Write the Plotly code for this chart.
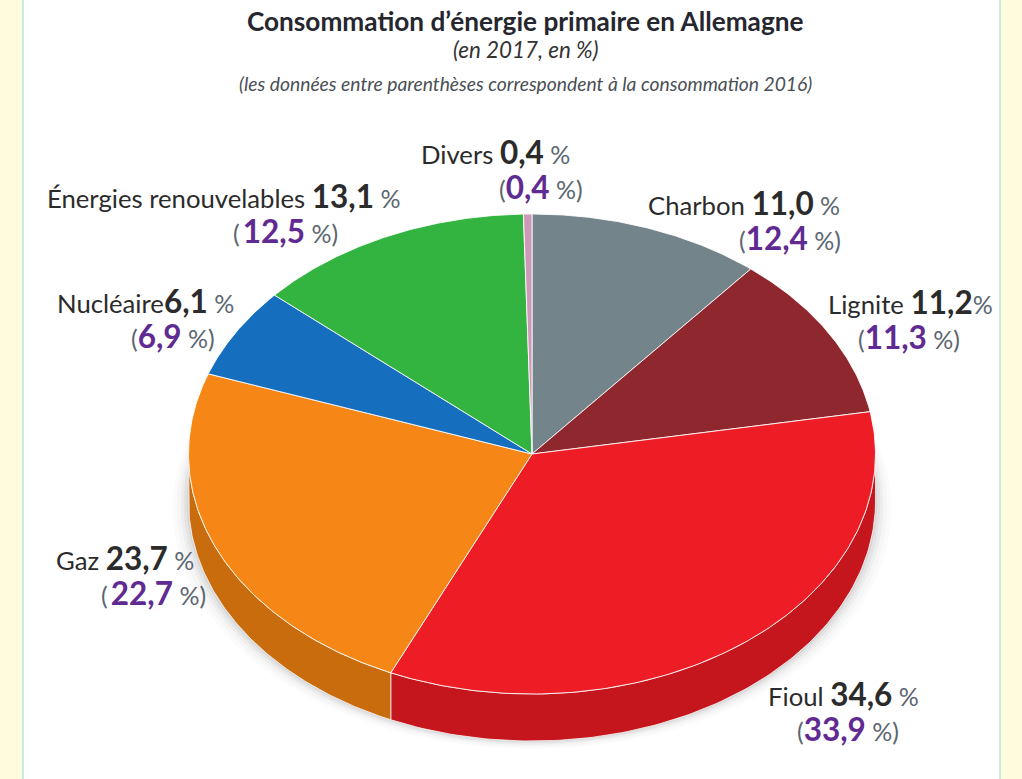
import numpy as np
import plotly.graph_objects as go

# ---- data ----
categories = ["Charbon", "Lignite", "Fioul", "Gaz", "Nucléaire", "Énergies renouvelables", "Divers"]
values_2017 = [11.0, 11.2, 34.6, 23.7, 6.1, 13.1, 0.4]
values_2016 = [12.4, 11.3, 33.9, 22.7, 6.9, 12.5, 0.4]

# ---- styles ----
top_colors = ["#74848B", "#8F272E", "#EE1C25", "#F68716", "#156EBE", "#33B440", "#CF98B8"]
side_colors = ["#5C6A70", "#721F25", "#C4161C", "#C96C0E", "#11589A", "#299033", "#A67A93"]
FONT = "Lato"
INK = "#2b2b2b"
PURPLE = "#5F2A91"
GREY = "#5c6670"

# pie geometry, in pixels of the 1022x779 page
CX, CY, RX, RY, DEPTH = 532, 454, 343.5, 240, 47

fig = go.Figure()


def ell(theta):
    return CX + RX * np.sin(theta), CY - RY * np.cos(theta)


# soft shadow below the pie
t = np.linspace(0, 2 * np.pi, 200)
for grow, alpha in [(16, 0.015), (12, 0.02), (8, 0.03), (5, 0.04), (2, 0.06)]:
    xs, ys = ell(t)
    fig.add_trace(go.Scatter(
        x=CX + (xs - CX) * (RX + grow) / RX, y=ys + DEPTH + grow * 0.5,
        mode="lines", fill="toself", fillcolor=f"rgba(0,0,0,{alpha})",
        line=dict(width=0), hoverinfo="skip", showlegend=False))

shares = np.array(values_2017) / sum(values_2017)
edges = np.concatenate([[0], np.cumsum(shares)]) * 2 * np.pi

# side wall (only the part of each slice facing the viewer)
for i, name in enumerate(categories):
    a = max(edges[i], np.pi / 2)
    b = min(edges[i + 1], 3 * np.pi / 2)
    if b <= a:
        continue
    th = np.linspace(a, b, 120)
    xs, ys = ell(th)
    fig.add_trace(go.Scatter(
        x=np.concatenate([xs, xs[::-1], xs[:1]]),
        y=np.concatenate([ys, ys[::-1] + DEPTH, ys[:1]]),
        mode="lines", fill="toself", fillcolor=side_colors[i],
        line=dict(color="rgba(255,255,255,0.75)", width=1),
        hoverinfo="skip", showlegend=False))

# top face
for i, name in enumerate(categories):
    th = np.linspace(edges[i], edges[i + 1], 160)
    xs, ys = ell(th)
    fig.add_trace(go.Scatter(
        x=np.concatenate([[CX], xs, [CX]]),
        y=np.concatenate([[CY], ys, [CY]]),
        mode="lines", fill="toself", fillcolor=top_colors[i],
        line=dict(color="rgba(255,255,255,0.85)", width=1),
        name=name, text=f"{name} {values_2017[i]} %", hoverinfo="text", showlegend=False))


def fr(v):
    return f"{v:.1f}".replace(".", ",")


def span(txt, size, color, bold=False):
    w = "font-weight:bold;" if bold else ""
    return f'<span style="font-size:{size}px;color:{color};{w}">{txt}</span>'


# left edge / vertical centre of each label's two lines
label_pos = [
    ((647, 203), (738, 238)),
    ((827, 302), (857, 337)),
    ((767, 694), (796, 729)),
    ((55, 558), (100, 593)),
    ((56, 301), (130, 336)),
    ((46, 196), (232, 231)),
    ((420, 152), (498, 187)),
]
name_gap = [" ", " ", " ", " ", "", " ", " "]
pct_gap = [" ", "", " ", " ", " ", " ", " "]
paren_gap = ["", "", "", "\u2009", "", "\u2009", ""]

ann = []
for name, v17, v16, (p1, p2), g1, g2, g3 in zip(categories, values_2017, values_2016, label_pos,
                                                 name_gap, pct_gap, paren_gap):
    line1 = (span(name + g1, 25.7, INK) + span(fr(v17), 31.5, INK, True) + span(g2 + "%", 25, GREY))
    line2 = (span("(" + g3, 25, GREY) + span(fr(v16), 31.5, PURPLE, True) + span(" %)", 25, GREY))
    for (px, py), txt in ((p1, line1), (p2, line2)):
        ann.append(dict(x=px, y=py, text=txt, xref="x", yref="y", xanchor="left", yanchor="middle",
                        showarrow=False, font=dict(family=FONT, size=24), borderpad=0))

for txt, y, size, style, color in [
    ("<b>Consommation d’énergie primaire en Allemagne</b>", 21, 26.2, "normal", "#26262e"),
    ("(en 2017, en %)", 49, 22.4, "italic", "#333333"),
    ("(les données entre parenthèses correspondent à la consommation 2016)", 83, 19.3, "italic", "#4a4f55"),
]:
    ann.append(dict(x=525, y=y, text=txt, xref="x", yref="y", xanchor="center", yanchor="middle",
                    showarrow=False, font=dict(family=FONT, size=size, style=style, color=color)))

fig.update_layout(
    width=1022, height=779, margin=dict(l=0, r=0, t=0, b=0),
    paper_bgcolor="#FFFBDC", plot_bgcolor="rgba(0,0,0,0)",
    xaxis=dict(range=[0, 1022], visible=False, fixedrange=True),
    yaxis=dict(range=[779, 0], visible=False, fixedrange=True),
    annotations=ann, showlegend=False,
    shapes=[dict(type="rect", xref="x", yref="y", x0=23, x1=1000, y0=-5, y1=785, layer="below",
                 fillcolor="#FFFFFF", line=dict(color="#C8EBE6", width=2))],
)
fig.write_html("out.html", config=dict(displayModeBar=False),
               post_script="document.body.style.margin='0';document.documentElement.style.overflow='hidden';")
